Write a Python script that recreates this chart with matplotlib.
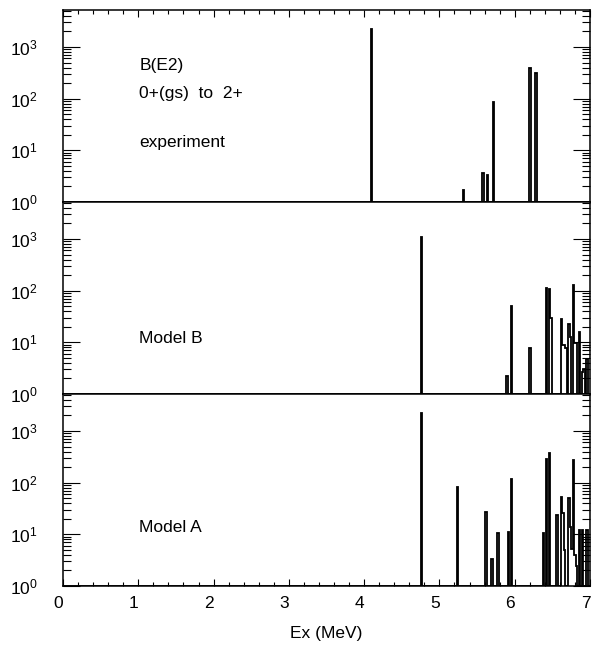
import numpy as np
import matplotlib
matplotlib.use("Agg")
import matplotlib.pyplot as plt
import matplotlib.transforms as mtransforms
from matplotlib.ticker import FixedLocator, LogLocator, MultipleLocator, NullFormatter

# ======================================
# 数据 (B(E2) strength vs excitation energy)
# ======================================

exp_energy = [4.10, 5.32, 5.58, 5.64, 5.72, 6.20, 6.28]
exp_be2 = [2240, 1.67, 3.6, 3.4, 86, 390, 320]

modelB_energy = [4.76, 5.90, 5.96, 6.20, 6.42, 6.46, 6.48, 6.62, 6.64, 6.66,
                 6.68, 6.72, 6.74, 6.78, 6.80, 6.82, 6.86, 6.90, 6.92, 6.96]
modelB_be2 = [1100, 2.2, 50, 7.9, 110, 107, 30, 28, 8.9, 8.9,
              7.7, 22.6, 12.7, 128, 9.7, 9.7, 16, 2.7, 3.0, 4.7]

modelA_energy = [4.76, 5.24, 5.62, 5.70, 5.78, 5.92, 5.96, 6.38, 6.42, 6.46,
                 6.56, 6.62, 6.64, 6.66, 6.72, 6.74, 6.76, 6.78, 6.80, 6.82,
                 6.86, 6.90, 6.96]
modelA_be2 = [2240, 83, 26.7, 3.4, 10.7, 11, 116, 10.6, 290, 380,
              23.8, 52, 26, 5, 50, 14, 5.3, 280, 4, 2.4,
              12, 12, 12]

panel_labels = [["B(E2)", "0+(gs)  to  2+", "experiment"], ["Model B"], ["Model A"]]

# ======================================
# 样式
# ======================================

plt.rcParams["font.family"] = ["Liberation Sans", "DejaVu Sans"]
plt.rcParams["mathtext.fontset"] = "custom"
plt.rcParams["mathtext.rm"] = "Liberation Sans"
plt.rcParams["mathtext.it"] = "Liberation Sans:italic"
plt.rcParams["font.size"] = 12.5

BIN_W = 0.02
edges = np.arange(-BIN_W / 2, 7.0 + BIN_W, BIN_W)

Y_MAX = 10 ** 3.715

fig = plt.figure(figsize=(5.92, 6.49), dpi=100)

left = 63 / 592
right = 590 / 592
bottom = 1 - 586 / 649
top = 1 - 10 / 649
h = (top - bottom) / 3

datasets = [
    (exp_energy, exp_be2),
    (modelB_energy, modelB_be2),
    (modelA_energy, modelA_be2),
]

axes = []

for i, (energy, be2) in enumerate(datasets):

    ax = fig.add_axes([left, top - (i + 1) * h, right - left, h])
    axes.append(ax)

    hist, _ = np.histogram(energy, bins=edges, weights=be2)
    hist = np.where(hist > 1, hist, 1.0)

    ax.stairs(hist, edges, baseline=1, color="black", lw=1.3)

    ax.set_yscale("log")
    ax.set_xlim(0, 7)
    ax.set_ylim(1, Y_MAX)

    # -------------------------
    # 刻度
    # -------------------------

    ax.yaxis.set_major_locator(FixedLocator([1, 10, 100, 1000]))
    ax.set_yticklabels([r"$\mathregular{10^{%d}}$" % k for k in range(4)])
    ax.yaxis.set_minor_locator(LogLocator(base=10, subs=np.arange(2, 10), numticks=20))
    ax.yaxis.set_minor_formatter(NullFormatter())

    ax.xaxis.set_major_locator(FixedLocator(np.arange(0, 8)))
    ax.xaxis.set_minor_locator(MultipleLocator(0.2))

    ax.tick_params(axis="y", which="major", direction="in", length=12.5,
                   width=0.8, left=True, right=True, pad=18)
    ax.tick_params(axis="y", which="minor", direction="in", length=5.8,
                   width=0.8, left=True, right=True)

    show_top = (i == 0)
    show_bottom = (i == 2)
    ax.tick_params(axis="x", which="major", direction="in", length=5,
                   width=0.8, top=show_top, bottom=show_bottom,
                   labelbottom=show_bottom, pad=7)
    ax.tick_params(axis="x", which="minor", direction="in", length=2.8,
                   width=0.8, top=show_top, bottom=show_bottom)

    for sp in ax.spines.values():
        sp.set_linewidth(1.1)

    # -------------------------
    # 文字标注
    # -------------------------

    if i == 0:
        ys = [0.6875, 0.542, 0.286]
    elif i == 1:
        ys = [0.266]
    else:
        ys = [0.281]

    for txt, yy in zip(panel_labels[i], ys):
        ax.text(0.145, yy, txt, transform=ax.transAxes,
                ha="left", va="baseline", fontsize=12.5)

axes[2].set_xlabel("Ex (MeV)", labelpad=11)

# x 刻度标签略向左偏移
offset = mtransforms.ScaledTranslation(-4.5 / 100, 0, fig.dpi_scale_trans)
for lbl in axes[2].get_xticklabels():
    lbl.set_transform(lbl.get_transform() + offset)

fig.savefig("out.png", dpi=100)
